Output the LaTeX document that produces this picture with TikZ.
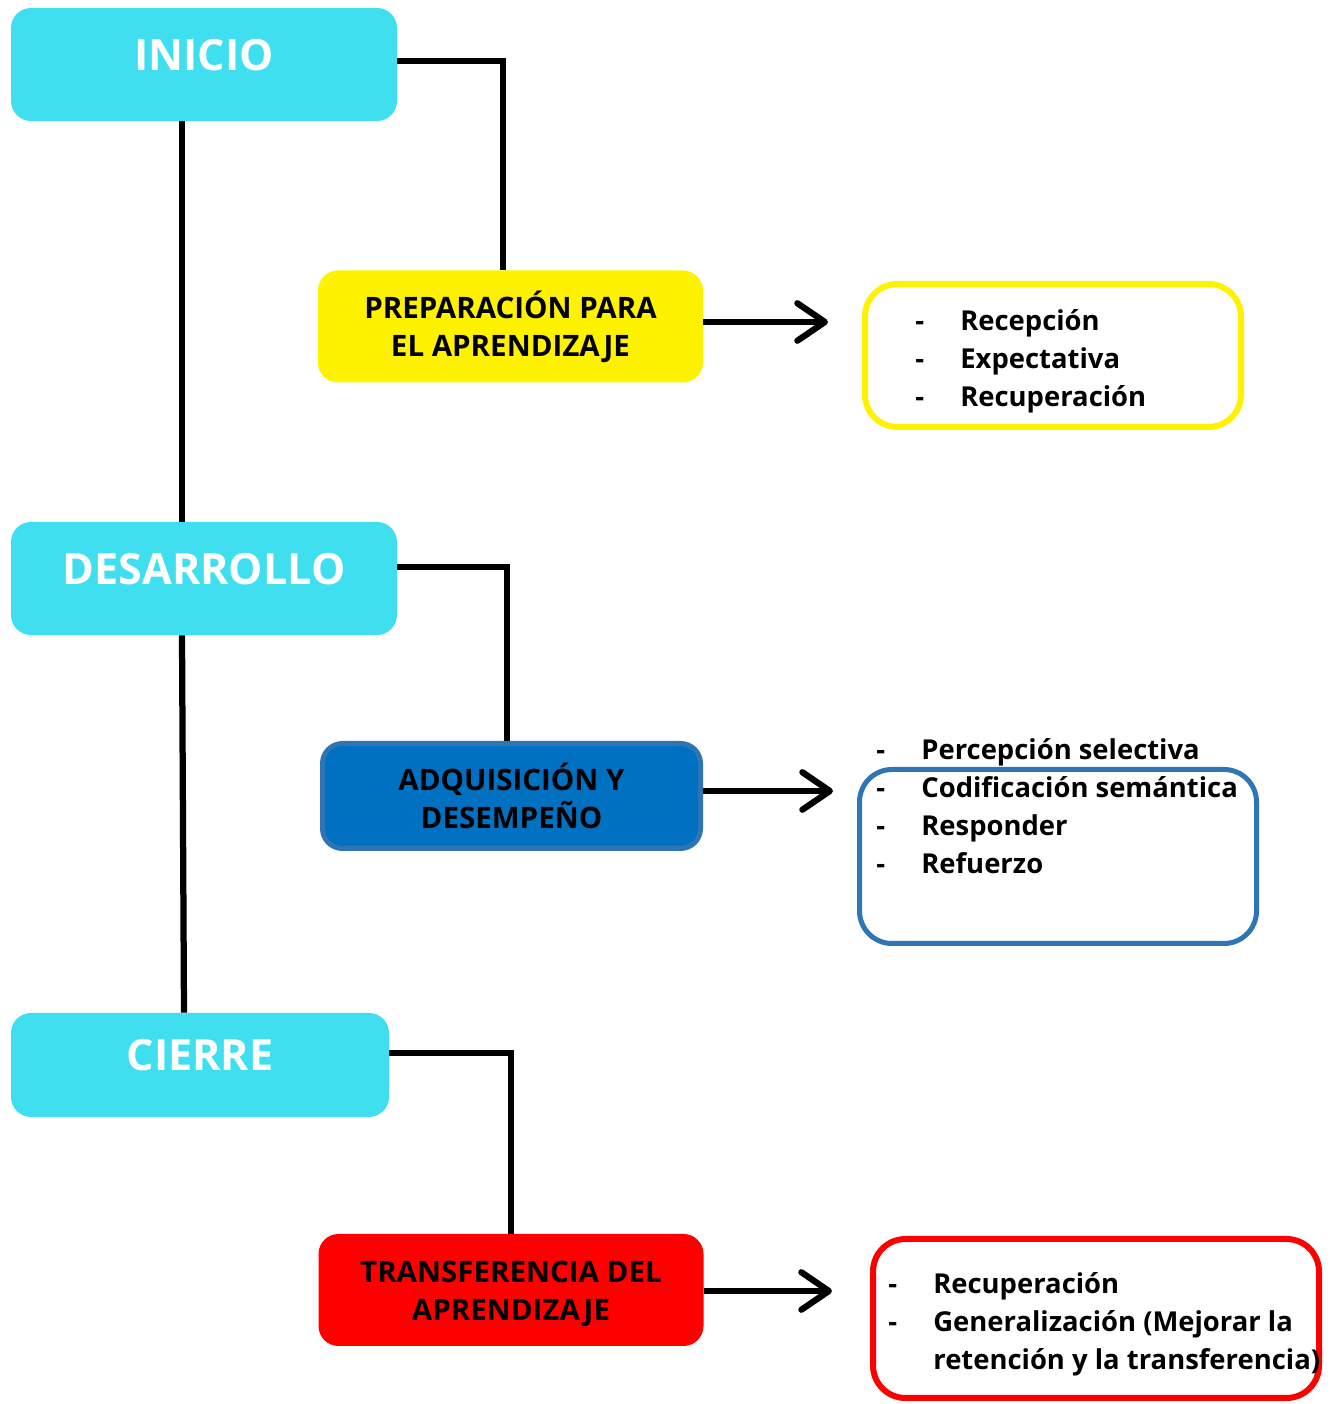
\documentclass[tikz,border=0pt]{standalone}
\usepackage{fontspec}
\setmainfont{Open Sans}
\usetikzlibrary{arrows.meta}
\definecolor{celeste}{RGB}{64,223,240}
\definecolor{azulfondo}{HTML}{0070C0}
\definecolor{azulborde}{HTML}{2E75B6}
\newcommand{\guion}{\makebox[0.9cm][l]{-}}
\tikzset{
	fase/.style={fill=celeste, rounded corners=0.4cm, minimum width=7.72cm, minimum height=2.26cm, inner sep=0pt, text=white, font=\fontsize{24.5}{28}\selectfont\bfseries, text depth=0.4cm},
	subfase/.style={rounded corners=0.4cm, minimum width=7.7cm, minimum height=2.24cm, inner sep=0pt, align=center, font=\fontsize{16.8}{21.5}\selectfont\bfseries},
	lista/.style={rounded corners=0.65cm, line width=0.12cm, inner sep=0pt},
	texto/.style={anchor=west, align=left, inner sep=0pt, font=\fontsize{15.6}{21.6}\selectfont\bfseries},
	enlace/.style={line width=0.125cm},
	flecha/.style={line width=0.125cm, -{Straight Barb[length=0.55cm, width=0.75cm, round]}}
}

\begin{document}
\begin{tikzpicture}
		%%%%% START %%%%%
		\useasboundingbox (0, 0) rectangle (26.66, 28.08);
		
		\node[fase] (inicio) at (4.08, 26.79) {INICIO};
		\node[fase] (desarrollo) at (4.08, 16.51) {DESARROLLO};
		\node[fase, minimum width=7.56cm, minimum height=2.08cm] (cierre) at (4.0, 6.78) {CIERRE};
		
		\node[subfase, fill=yellow] (preparacion) at (10.21, 21.55) {PREPARACIÓN PARA\\EL APRENDIZAJE};
		\node[subfase, fill=azulfondo, draw=azulborde, line width=0.1cm, minimum width=7.56cm, minimum height=2.1cm] (adquisicion) at (10.23, 12.16) {ADQUISICIÓN Y\\DESEMPEÑO};
		\node[subfase, fill=red] (transferencia) at (10.22, 2.28) {\rule{0pt}{0.58cm}TRANSFERENCIA DEL\\APRENDIZAJE};
		
		\node[lista, draw=yellow, minimum width=7.52cm, minimum height=2.86cm] (cajaA) at (21.06, 20.97) {};
		\node[lista, draw=azulborde, line width=0.1cm, minimum width=7.94cm, minimum height=3.48cm] (cajaB) at (21.16, 10.95) {};
		\node[lista, draw=red, minimum width=8.92cm, minimum height=3.18cm] (cajaC) at (21.92, 1.71) {};
		
		\node[texto] (itemsA) at (18.3, 20.86) {\guion Recepción\\\guion Expectativa\\\guion Recuperación};
		\node[texto] (itemsB) at (17.52, 11.96) {\guion Percepción selectiva\\\guion Codificación semántica\\\guion Responder\\\guion Refuerzo};
		\node[texto] (itemsC) at (17.76, 1.6) {\guion Recuperación\\\guion Generalización (Mejorar la\\\hspace*{0.9cm}retención y la transferencia)};
		
		% tronco
		\draw[enlace] ([xshift=-0.44cm]inicio.south) -- ([xshift=-0.44cm]desarrollo.north);
		\draw[enlace] ([xshift=-0.44cm]desarrollo.south) -- ([xshift=-0.32cm]cierre.north);
		
		\draw[enlace] ([yshift=0.07cm]inicio.east) -| ([xshift=-0.15cm]preparacion.north);
		\draw[enlace] ([yshift=0.23cm]desarrollo.east) -| ([xshift=-0.09cm]adquisicion.north);
		\draw[enlace] ([yshift=0.24cm]cierre.east) -| (transferencia.north);
		
		\coordinate (puntaA) at (16.56, 21.64);
		\coordinate (puntaB) at (16.66, 12.26);
		\coordinate (puntaC) at (16.64, 2.26);
		\draw[flecha] (preparacion.east |- puntaA) -- (puntaA);
		\draw[flecha] (adquisicion.east |- puntaB) -- (puntaB);
		\draw[flecha] (transferencia.east |- puntaC) -- (puntaC);
		%%%%% END %%%%%
\end{tikzpicture}
\end{document}
